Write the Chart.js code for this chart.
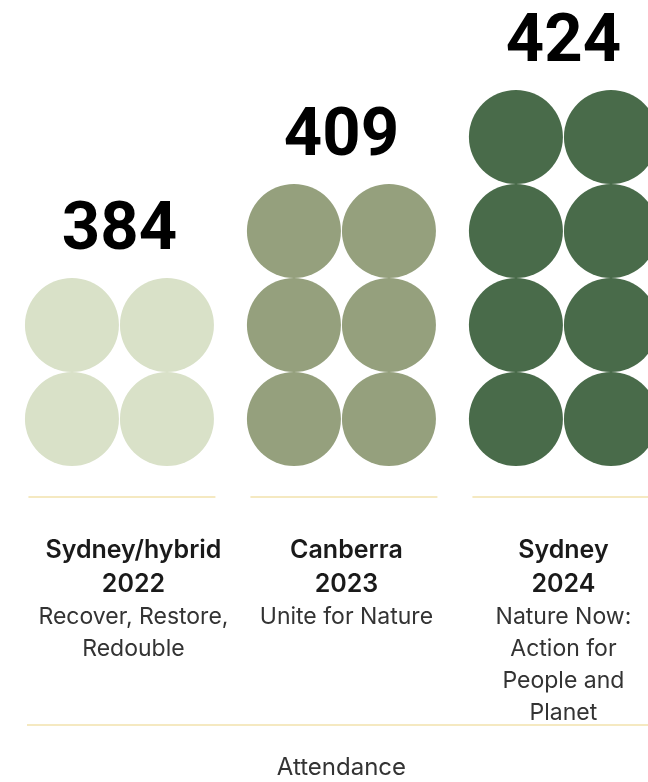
<!DOCTYPE html>
<html>
<head>
<meta charset="utf-8">
<script src="https://cdn.jsdelivr.net/npm/chart.js@4.4.1/dist/chart.umd.min.js"></script>
<style>
  html, body { margin: 0; padding: 0; background: #fff; overflow: hidden; }
  #wrap { width: 648px; height: 782px; position: relative; }
</style>
</head>
<body>
<div id="wrap"><canvas id="attendanceChart"></canvas></div>
<script>
const venues = ["Sydney/hybrid", "Canberra", "Sydney"];
const years = ["2022", "2023", "2024"];
const themes = [
  ["Recover, Restore,", "Redouble"],
  ["Unite for Nature"],
  ["Nature Now:", "Action for", "People and", "Planet"],
];
const attendance = [384, 409, 424];
const circleCounts = [4, 6, 8];
const circleColours = ["#d9e1c8", "#95a07d", "#496b4a"];
const axisTitle = "Attendance";

const RADIUS = 47;
const COL_STEP = 0.214; // half the distance between the two columns, in x units
const RULE = "#f2e2ad";

// two columns of circles per year, one row per pair
const datasets = circleCounts.map((count, i) => {
  const points = [];
  for (let r = 0; r < count / 2; r++) {
    points.push({ x: i - COL_STEP, y: r });
    points.push({ x: i + COL_STEP, y: r });
  }
  return {
    data: points,
    backgroundColor: circleColours[i],
    borderWidth: 0,
    pointRadius: RADIUS,
    pointHoverRadius: RADIUS,
    clip: false,
  };
});

const labelPlugin = {
  id: "labelPlugin",
  afterDatasetsDraw(chart, args, opts) {
    const { ctx } = chart;
    const x = chart.scales.x;
    const y = chart.scales.y;
    const bottom = y.getPixelForValue(0) + RADIUS;

    ctx.save();
    ctx.textAlign = "center";
    ctx.textBaseline = "alphabetic";

    attendance.forEach((value, i) => {
      const cx = x.getPixelForValue(i);
      const top = y.getPixelForValue(circleCounts[i] / 2 - 1) - RADIUS;

      // big number above each stack
      ctx.font = "700 67px Roboto";
      ctx.fillStyle = "#000";
      ctx.fillText(String(value), cx, top - 29);

      // short rule under each stack
      ctx.strokeStyle = RULE;
      ctx.lineWidth = 1.5;
      ctx.beginPath();
      ctx.moveTo(cx - 91, bottom + 31);
      ctx.lineTo(cx + 96, bottom + 31);
      ctx.stroke();

      // venue, year, theme
      const lx = cx + opts.nudge[i];
      let ly = bottom + 92;
      ctx.fillStyle = "#1a1a1a";
      ctx.font = "600 25px Inter";
      ctx.fillText(venues[i], lx, ly);
      ly += 34;
      ctx.fillText(years[i], lx, ly);
      ctx.fillStyle = "#333";
      ctx.font = "400 23px Inter";
      themes[i].forEach((line) => {
        ly += 32;
        ctx.fillText(line, lx, ly);
      });
    });

    // long rule and axis title
    ctx.strokeStyle = RULE;
    ctx.lineWidth = 1.5;
    ctx.beginPath();
    ctx.moveTo(27, bottom + 259);
    ctx.lineTo(chart.width, bottom + 259);
    ctx.stroke();

    ctx.fillStyle = "#333";
    ctx.font = "400 24px Inter";
    ctx.fillText(axisTitle, x.getPixelForValue(1), bottom + 309);
    ctx.restore();
  },
};

new Chart(document.querySelector("#attendanceChart"), {
  type: "scatter",
  data: { datasets },
  options: {
    responsive: true,
    maintainAspectRatio: false,
    animation: false,
    events: [],
    layout: { padding: 0, autoPadding: false },
    plugins: {
      legend: { display: false },
      tooltip: { enabled: false },
      labelPlugin: { nudge: [14, 5, 0] },
    },
    scales: {
      x: { type: "linear", min: -0.538, max: 2.381, display: false },
      y: { type: "linear", min: -3.862, max: 4.457, display: false },
    },
  },
  plugins: [labelPlugin],
});
</script>
</body>
</html>
